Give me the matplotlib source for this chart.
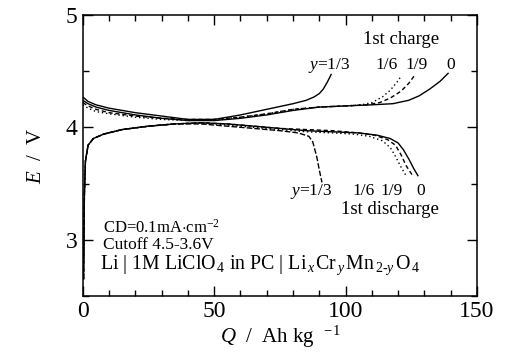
import matplotlib
matplotlib.use("Agg")
import matplotlib.pyplot as plt
from matplotlib.ticker import MultipleLocator

plt.rcParams["font.family"] = ["Liberation Serif", "DejaVu Serif"]
plt.rcParams["mathtext.fontset"] = "custom"
plt.rcParams["mathtext.rm"] = "Liberation Serif"
plt.rcParams["mathtext.it"] = "Liberation Serif:italic"

# first charge curves, Q in Ah/kg, E in V
charge_q_0 = [0, 2, 5, 10, 20, 30, 40, 50, 60, 70, 80, 90, 100, 110, 118, 124, 128, 132, 136, 139]
charge_e_0 = [4.24, 4.21, 4.18, 4.15, 4.11, 4.08, 4.06, 4.06, 4.08, 4.11, 4.15, 4.18, 4.19, 4.20, 4.21, 4.24, 4.28, 4.34, 4.41, 4.48]
charge_q_19 = [0, 2, 5, 10, 20, 30, 40, 50, 60, 70, 80, 90, 100, 108, 113, 117, 121, 124, 126.5]
charge_e_19 = [4.22, 4.19, 4.16, 4.13, 4.10, 4.08, 4.07, 4.07, 4.09, 4.12, 4.16, 4.18, 4.19, 4.20, 4.22, 4.26, 4.32, 4.39, 4.47]
charge_q_16 = [0, 2, 5, 10, 20, 30, 40, 50, 60, 70, 80, 90, 100, 106, 110, 114, 117, 119.5, 121]
charge_e_16 = [4.20, 4.17, 4.14, 4.12, 4.09, 4.07, 4.06, 4.07, 4.09, 4.12, 4.16, 4.18, 4.19, 4.20, 4.22, 4.27, 4.33, 4.40, 4.45]
charge_q_13 = [0, 2, 5, 10, 20, 30, 40, 50, 60, 70, 80, 85, 88, 90, 91.5, 93, 94.5]
charge_e_13 = [4.27, 4.23, 4.20, 4.17, 4.13, 4.10, 4.07, 4.07, 4.11, 4.16, 4.21, 4.24, 4.27, 4.30, 4.34, 4.40, 4.47]

# first discharge curves
dis_q_0 = [0.3, 0.6, 1, 2, 4, 8, 15, 25, 35, 45, 55, 65, 75, 85, 95, 105, 112, 117, 120, 122, 124, 126, 127.5]
dis_e_0 = [2.65, 3.4, 3.7, 3.84, 3.9, 3.94, 3.98, 4.01, 4.03, 4.04, 4.03, 4.01, 3.99, 3.97, 3.96, 3.95, 3.93, 3.90, 3.86, 3.80, 3.72, 3.63, 3.57]
dis_q_19 = [0.3, 0.6, 1, 2, 4, 8, 15, 25, 35, 45, 55, 65, 75, 85, 95, 105, 111, 116, 119, 121, 123, 125.5]
dis_e_19 = [2.65, 3.4, 3.7, 3.84, 3.9, 3.94, 3.98, 4.01, 4.03, 4.04, 4.03, 4.01, 3.99, 3.98, 3.97, 3.95, 3.93, 3.89, 3.84, 3.76, 3.66, 3.57]
dis_q_16 = [0.3, 0.6, 1, 2, 4, 8, 15, 25, 35, 45, 55, 65, 75, 85, 95, 103, 109, 114, 117, 119, 121, 123]
dis_e_16 = [2.65, 3.4, 3.7, 3.84, 3.9, 3.94, 3.98, 4.01, 4.03, 4.04, 4.02, 4.00, 3.98, 3.96, 3.95, 3.94, 3.92, 3.88, 3.82, 3.74, 3.65, 3.57]
dis_q_13 = [0.3, 0.6, 1, 2, 4, 8, 15, 25, 35, 45, 55, 65, 75, 82, 86, 87.5, 89, 90, 91]
dis_e_13 = [2.65, 3.4, 3.7, 3.84, 3.9, 3.94, 3.98, 4.01, 4.03, 4.03, 4.01, 3.99, 3.97, 3.95, 3.92, 3.87, 3.74, 3.62, 3.51]

charge_labels = [(r"$y$=1/3", 93.6), ("1/6", 115.6), ("1/9", 127.0), ("0", 140.0)]
dis_labels = [(r"$y$=1/3", 87.0), ("1/6", 107.0), ("1/9", 117.6), ("0", 128.6)]

fig = plt.figure(figsize=(5.08, 3.54), dpi=100)
ax = fig.add_axes([0.163, 0.164, 0.776, 0.794])

lw = 1.0
ax.plot(charge_q_0, charge_e_0, color="black", lw=lw, ls="-")
ax.plot(charge_q_19, charge_e_19, color="black", lw=lw, ls=(0, (3, 2)))
ax.plot(charge_q_16, charge_e_16, color="black", lw=lw, ls=(0, (1, 2)))
ax.plot(charge_q_13, charge_e_13, color="black", lw=lw, ls="-")
ax.plot(dis_q_0, dis_e_0, color="black", lw=lw, ls="-")
ax.plot(dis_q_19, dis_e_19, color="black", lw=lw, ls=(0, (3, 2)))
ax.plot(dis_q_16, dis_e_16, color="black", lw=lw, ls=(0, (1, 2)))
ax.plot(dis_q_13, dis_e_13, color="black", lw=lw, ls=(0, (4, 1.5)))

ax.set_xlim(0, 150)
ax.set_ylim(2.5, 5)
ax.xaxis.set_major_locator(MultipleLocator(50))
ax.xaxis.set_minor_locator(MultipleLocator(10))
ax.yaxis.set_major_locator(MultipleLocator(1))
ax.yaxis.set_minor_locator(MultipleLocator(0.5))
ax.tick_params(which="both", direction="in", top=True, right=True, labelsize=17, width=1)
ax.tick_params(which="major", length=7, pad=4)
ax.tick_params(which="minor", length=4)
for s in ax.spines.values():
    s.set_linewidth(1.1)

ax.set_xlabel(r"$Q$  /  Ah kg  $^{-1}$", fontsize=15, labelpad=1)
ax.set_ylabel(r"$E$  /  V", fontsize=15, labelpad=14)

for txt, q in charge_labels:
    ax.text(q, 4.55, txt, fontsize=12.5, ha="center", va="center")
ax.text(121, 4.78, "1st charge", fontsize=13.5, ha="center", va="center")
for txt, q in dis_labels:
    ax.text(q, 3.43, txt, fontsize=12.5, ha="center", va="center")
ax.text(117, 3.27, "1st discharge", fontsize=13.5, ha="center", va="center")

ax.text(7.5, 3.11, r"CD=0.1mA$\cdot$cm$^{-2}$", fontsize=12, ha="left", va="center")
ax.text(7.5, 2.95, "Cutoff 4.5-3.6V", fontsize=12.5, ha="left", va="center")
ax.text(6.5, 2.775,
        r"Li | 1M LiClO$_{\,4}$ in PC | Li$_{\,x\,}$Cr$_{\,y\,}$Mn$_{\,2\text{-}y\,}$O$_{\,4}$",
        fontsize=14.3, ha="left", va="center")

fig.savefig("out.png", dpi=100)
